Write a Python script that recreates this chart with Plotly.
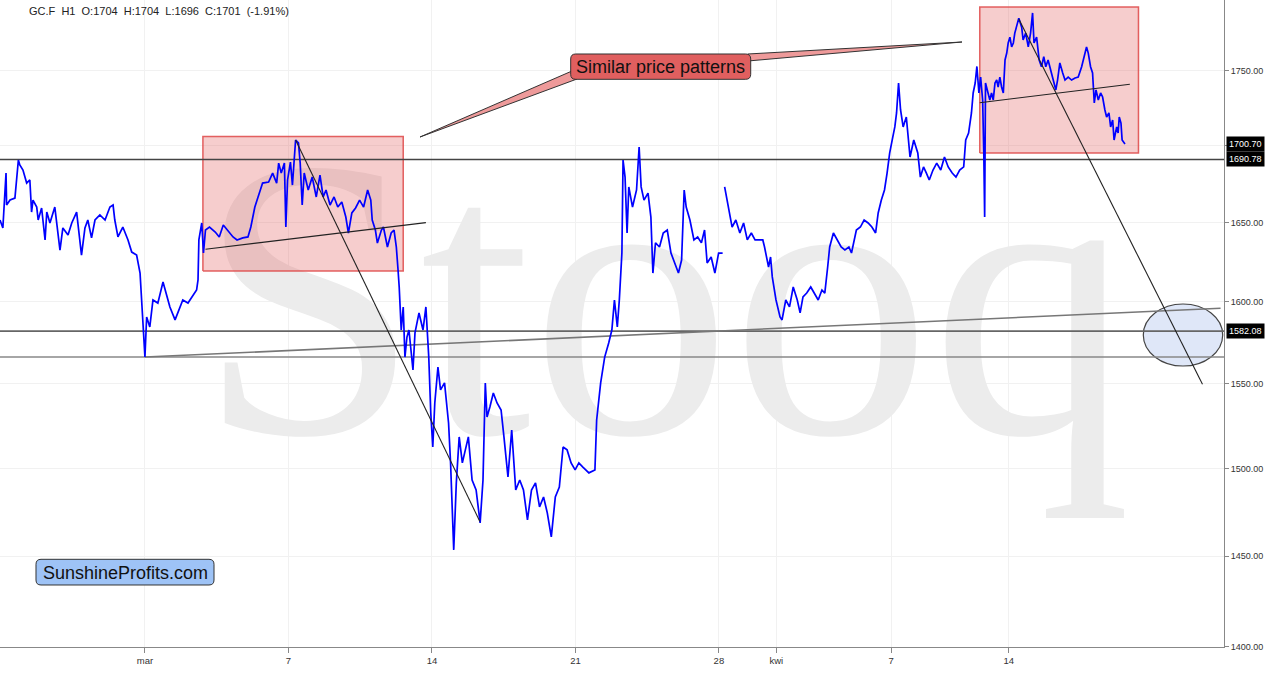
import math
import plotly.graph_objects as go

# ---------------- data ----------------
# t = trading days after 2 Mar 2020 (weekends removed), price = GC.F hourly close
t = [-5.05, -4.95, -4.84, -4.82, -4.70, -4.53, -4.41, -4.36, -4.25, -4.12, -4.01, -3.95, -3.90, -3.77,
     -3.72, -3.60, -3.48, -3.42, -3.31, -3.14, -2.96, -2.86, -2.68, -2.55, -2.38, -2.21, -2.09, -1.99,
     -1.86, -1.74, -1.57, -1.39, -1.22, -1.11, -1.05, -0.94, -0.77, -0.59, -0.46, -0.29, -0.17, -0.11,
     -0.06, 0.00, 0.06, 0.17, 0.28, 0.45, 0.63, 0.76, 0.87, 1.05, 1.15, 1.32, 1.50, 1.67, 1.80, 1.85,
     1.88, 1.98,
     2.04, 2.11, 2.25, 2.45, 2.59, 2.73, 2.87, 3.07, 3.21, 3.41, 3.59, 3.69, 3.83, 3.97, 4.10, 4.31,
     4.45, 4.59, 4.66, 4.75, 4.86, 4.91, 4.97, 5.07, 5.14, 5.25, 5.35, 5.41, 5.48, 5.55, 5.69, 5.83,
     5.97, 6.10, 6.21, 6.31, 6.45, 6.59, 6.72, 6.86, 7.00, 7.09, 7.21, 7.34, 7.48, 7.62, 7.76, 7.87,
     7.92, 8.03, 8.10, 8.24, 8.31, 8.45, 8.58, 8.68, 8.76, 8.82, 8.86, 8.93, 9.00, 9.06,
     9.13, 9.20, 9.27, 9.34, 9.41, 9.55, 9.69, 9.79, 9.89, 9.96, 10.03, 10.10, 10.21, 10.30, 10.44,
     10.58, 10.65, 10.76, 10.85, 10.95, 11.06, 11.17, 11.27, 11.40, 11.54, 11.68, 11.78, 11.86, 11.92,
     12.02, 12.14, 12.27, 12.41, 12.51, 12.65, 12.78, 12.92, 13.06, 13.19, 13.33, 13.47, 13.61, 13.75,
     13.89, 14.02, 14.16, 14.30, 14.44, 14.57, 14.71, 14.85, 14.99, 15.12, 15.26, 15.47, 15.68, 15.74,
     15.88, 16.02, 16.16, 16.27, 16.36,
     16.46, 16.53, 16.57, 16.62, 16.66, 16.73, 16.80, 16.86, 16.99, 17.13, 17.22, 17.29, 17.39, 17.53,
     17.63, 17.70, 17.79, 17.93, 18.06, 18.20, 18.33, 18.46, 18.59, 18.70, 18.79, 18.86, 18.99, 19.13,
     19.26, 19.39, 19.50, 19.59, 19.73, 19.86, 19.99, 20.13, 20.16,
     20.20, 20.33, 20.46, 20.59, 20.73, 20.86, 20.99, 21.13, 21.26, 21.39, 21.53, 21.59, 21.73, 21.80,
     21.86, 21.99, 22.13, 22.20, 22.33, 22.46, 22.59, 22.73, 22.83, 22.93, 23.06, 23.20, 23.33, 23.46,
     23.59, 23.69, 23.79, 23.86, 23.99, 24.13, 24.26, 24.39, 24.53, 24.62, 24.73, 24.79, 24.93, 25.06,
     25.20, 25.33, 25.46, 25.55, 25.66, 25.77, 25.86, 25.95, 26.06, 26.13, 26.19, 26.26, 26.33, 26.42,
     26.53, 26.60, 26.66, 26.79, 26.93, 27.02, 27.13, 27.23, 27.33, 27.46, 27.59, 27.73, 27.86, 27.99,
     28.13, 28.26, 28.39, 28.53, 28.60, 28.70, 28.80, 28.86, 28.93, 28.99, 29.06, 29.12, 29.19, 29.23,
     29.26, 29.29,
     29.38, 29.44, 29.50, 29.56, 29.62, 29.68, 29.73, 29.79, 29.85, 29.91, 29.97, 30.03, 30.08, 30.14,
     30.20, 30.26, 30.31, 30.37, 30.45, 30.55, 30.60, 30.69, 30.78, 30.86, 30.93, 30.98, 31.07, 31.16,
     31.24, 31.32, 31.39, 31.47, 31.56, 31.65, 31.74, 31.80, 31.88, 31.98, 32.06, 32.17, 32.29, 32.41,
     32.52, 32.64, 32.72, 32.81, 32.87, 32.95, 33.02, 33.08, 33.14, 33.22, 33.30, 33.37, 33.45, 33.51,
     33.59, 33.65, 33.72, 33.77, 33.86, 33.91, 33.95, 34.01, 34.05, 34.11, 34.15]

price = [1651.6, 1646.5, 1681.9, 1661.2, 1664.4, 1665.7, 1690.4, 1687.2, 1683.9, 1675.4, 1677.4, 1656.7,
         1664.4, 1659.9, 1651.6, 1659.3, 1638.9, 1656.7, 1649.7, 1659.9, 1632.5, 1646.5, 1642.0, 1649.7,
         1656.7, 1629.3, 1646.5, 1651.6, 1640.2, 1651.6, 1654.8, 1651.6, 1659.9, 1661.2, 1651.6, 1640.8,
         1647.1, 1638.9, 1631.2, 1629.3, 1618.0, 1596.9, 1584.6, 1566.2, 1590.7, 1584.6, 1601.2, 1599.3,
         1612.4, 1603.1, 1596.9, 1588.9, 1593.2, 1601.2, 1599.3, 1604.3, 1607.4, 1613.7, 1638.9, 1649.7,
         1630.6, 1645.2, 1647.1, 1643.9, 1640.8, 1648.4, 1645.2, 1640.8, 1638.9, 1640.2, 1640.8, 1647.1,
         1659.9, 1667.7, 1675.4, 1676.1, 1681.9, 1675.4, 1688.4, 1681.9, 1688.4, 1647.1, 1677.4, 1689.1,
         1674.1, 1703.6, 1701.6, 1688.4, 1661.2, 1681.9, 1670.9, 1679.3, 1666.4, 1680.6, 1666.4, 1670.9,
         1661.2, 1666.4, 1659.9, 1663.1, 1653.5, 1643.3, 1656.1, 1659.3, 1664.4, 1659.9, 1670.9, 1664.4,
         1651.6, 1645.2, 1636.9, 1645.2, 1647.1, 1634.4, 1643.3, 1645.2, 1634.4, 1619.9, 1609.3, 1582.7,
         1596.9, 1566.2,
         1578.4, 1582.7, 1572.3, 1558.4, 1580.9, 1593.2, 1582.7, 1596.9, 1566.2, 1532.6, 1512.6, 1538.6,
         1560.2, 1546.4, 1550.6, 1526.7, 1503.3, 1453.5, 1491.7, 1518.5, 1503.3, 1510.9, 1518.5, 1493.4,
         1487.6, 1468.8, 1493.4, 1550.6, 1530.3, 1536.2, 1544.6, 1538.6, 1534.4, 1518.5, 1495.1, 1522.6,
         1487.6, 1493.4, 1487.6, 1470.5, 1487.6, 1491.7, 1477.9, 1483.6, 1474.5, 1460.8, 1483.6, 1489.3,
         1512.6, 1510.9, 1503.3, 1499.2, 1503.3, 1500.9, 1497.5, 1499.2, 1528.5, 1550.6, 1566.2, 1574.8,
         1582.7, 1601.2,
         1584.6, 1601.2, 1618.0, 1630.6, 1690.4, 1679.3, 1643.3, 1672.9, 1659.9, 1670.9, 1699.0, 1672.9,
         1664.4, 1668.9, 1653.5, 1618.0, 1637.0, 1634.4, 1643.3, 1645.2, 1630.6, 1624.3, 1618.0, 1626.2,
         1670.9, 1659.9, 1651.6, 1638.9, 1640.8, 1637.0, 1645.2, 1624.3, 1628.1, 1618.0, 1630.6, 1630.6,
         None,
         1672.9, 1659.9, 1647.1, 1651.6, 1643.3, 1649.7, 1638.9, 1643.3, 1638.9, 1638.9, 1638.9, 1634.4,
         1621.8, 1628.1, 1615.6, 1601.2, 1590.7, 1588.9, 1601.2, 1596.9, 1609.3, 1601.2, 1593.2, 1603.1,
         1605.5, 1609.3, 1605.5, 1601.2, 1607.4, 1605.5, 1621.8, 1634.4, 1643.3, 1638.9, 1634.4, 1632.5,
         1634.4, 1630.6, 1638.9, 1645.2, 1647.1, 1651.6, 1649.7, 1647.1, 1643.3, 1656.1, 1664.4, 1670.9,
         1681.9, 1695.0, 1705.6, 1712.2, 1721.5, 1741.6, 1723.5, 1712.2, 1718.8, 1703.6, 1692.4, 1703.6,
         1695.0, 1679.3, 1685.9, 1681.9, 1677.4, 1683.9, 1688.4, 1683.9, 1692.4, 1685.9, 1681.9, 1679.3,
         1683.9, 1685.9, 1703.6, 1708.2, 1721.5, 1734.9, 1741.6, 1752.8, 1734.9, 1745.6, 1730.2, 1695.0,
         1653.5, 1741.6,
         1734.9, 1730.2, 1734.9, 1730.2, 1741.6, 1743.6, 1738.9, 1745.6, 1738.9, 1734.9, 1757.2, 1761.9,
         1768.8, 1772.8, 1766.1, 1768.8, 1775.6, 1779.7, 1785.9, 1779.7, 1770.9, 1775.6, 1766.1, 1775.6,
         1789.5, 1768.8, 1772.8, 1757.2, 1752.6, 1759.4, 1752.6, 1757.2, 1750.4, 1745.6, 1736.9, 1743.6,
         1755.2, 1748.4, 1743.6, 1745.6, 1743.6, 1745.0, 1745.6, 1752.6, 1759.4, 1766.1, 1761.9, 1752.6,
         1748.4, 1728.2, 1736.9, 1730.2, 1734.9, 1732.2, 1723.5, 1718.8, 1721.5, 1712.2, 1716.8, 1703.6,
         1712.2, 1708.2, 1718.8, 1714.8, 1703.6, 1701.6, 1701.0]

# x-axis ticks (trading-day offsets) and labels
tick_t = [0, 5, 10, 15, 20, 22, 26, 30.1]
tick_text = ["mar", "7", "14", "21", "28", "kwi", "7", "14"]

# y-axis ticks
price_ticks = [1400, 1450, 1500, 1550, 1600, 1650, 1700, 1750]

# horizontal support / resistance levels
level_top = 1690.78
level_mid = 1582.08
level_low = 1566.2
price_tags = [1700.70, 1690.78, 1582.08]

# analyst trendlines: (t0, p0, t1, p1)
trend_down_1 = (5.25, 1703.6, 11.67, 1469.6)
neck_1 = (2.11, 1633.0, 9.79, 1649.9)
rising_support = (0.0, 1566.2, 37.48, 1596.1)
trend_down_2 = (30.45, 1785.3, 36.85, 1549.8)
neck_2 = (29.09, 1728.3, 34.32, 1740.8)

# highlighted pattern boxes: (t0, t1, p_low, p_high)
box_1 = (2.02, 9.0, 1619.3, 1705.9)
box_2 = (29.09, 34.62, 1695.0, 1793.7)

X_RANGE = [-5.05, 37.6]
P_RANGE = [1399.84, 1798.5]

# ---------------- figure ----------------
W, H = 1280, 677
ML, MR, MT, MB = 0, 56, 0, 30
PW, PH = W - ML - MR, H - MT - MB


def px(x):
    return x / PW


def py(y):
    return 1 - y / PH


fig = go.Figure()

# watermark (drawn first, beneath everything)
fig.add_trace(go.Scatter(
    x=[18.1], y=[1580.9], mode="text", text=["Stooq"],
    textposition="middle center",
    textfont=dict(family="Liberation Serif", size=400, color="#ececec"),
    hoverinfo="skip", showlegend=False, cliponaxis=True))

# pattern boxes
for b in (box_1, box_2):
    t0, t1, p0, p1 = b
    fig.add_trace(go.Scatter(
        x=[t0, t1, t1, t0, t0], y=[p0, p0, p1, p1, p0], mode="lines",
        fill="toself", fillcolor="rgba(225,90,90,0.30)",
        line=dict(color="rgba(222,70,70,0.85)", width=1.5),
        hoverinfo="skip", showlegend=False))

# horizontal levels
for lvl, col, w in ((level_top, "#444444", 1.4), (level_mid, "#666666", 1.8), (level_low, "#888888", 1.4)):
    fig.add_trace(go.Scatter(x=X_RANGE, y=[lvl, lvl], mode="lines",
                             line=dict(color=col, width=w), hoverinfo="skip", showlegend=False))

# rising support line
fig.add_trace(go.Scatter(x=[rising_support[0], rising_support[2]], y=[rising_support[1], rising_support[3]],
                         mode="lines", line=dict(color="#777777", width=1.6),
                         hoverinfo="skip", showlegend=False))

# price
fig.add_trace(go.Scatter(x=t, y=price, mode="lines", line=dict(color="#0000ff", width=1.7),
                         connectgaps=False, showlegend=False, name="GC.F"))

# other trendlines on top
for ln in (trend_down_1, neck_1, trend_down_2, neck_2):
    fig.add_trace(go.Scatter(x=[ln[0], ln[2]], y=[ln[1], ln[3]], mode="lines",
                             line=dict(color="#222222", width=1.1),
                             hoverinfo="skip", showlegend=False))


def rounded_rect(x0, y0, x1, y1, r):
    # pixel box -> paper path with rounded corners
    pts = [
        ("M", x0 + r, y0), ("L", x1 - r, y0), ("Q", x1, y0, x1, y0 + r),
        ("L", x1, y1 - r), ("Q", x1, y1, x1 - r, y1), ("L", x0 + r, y1),
        ("Q", x0, y1, x0, y1 - r), ("L", x0, y0 + r), ("Q", x0, y0, x0 + r, y0)]
    s = ""
    for p in pts:
        if p[0] == "Q":
            s += f"Q{px(p[1]):.5f},{py(p[2]):.5f} {px(p[3]):.5f},{py(p[4]):.5f} "
        else:
            s += f"{p[0]}{px(p[1]):.5f},{py(p[2]):.5f} "
    return s + "Z"


def tri(pts):
    s = "M" + " L".join(f"{px(a):.5f},{py(b):.5f}" for a, b in pts)
    return s + " Z"


shapes = []
# target ellipse
shapes.append(dict(type="circle", xref="paper", yref="paper",
                   x0=px(1143.3), x1=px(1222.7), y0=py(366), y1=py(304),
                   fillcolor="#dfe7f8", line=dict(color="#444444", width=1.2), layer="below"))
# callout tails
shapes.append(dict(type="path", xref="paper", yref="paper",
                   path=tri([(572, 71), (420, 137), (577, 79)]),
                   fillcolor="#ee9a9a", line=dict(color="#333333", width=1)))
shapes.append(dict(type="path", xref="paper", yref="paper",
                   path=tri([(748, 54), (962, 42), (748, 61)]),
                   fillcolor="#ee9a9a", line=dict(color="#333333", width=1)))
# label boxes
shapes.append(dict(type="path", xref="paper", yref="paper",
                   path=rounded_rect(570.7, 54, 750.7, 79.3, 5),
                   fillcolor="#e05f5f", line=dict(color="#333333", width=1)))
shapes.append(dict(type="path", xref="paper", yref="paper",
                   path=rounded_rect(36, 559.3, 214, 585, 5),
                   fillcolor="#9ec3f6", line=dict(color="#333333", width=1)))

annotations = [
    dict(text="GC.F\u00a0\u00a0H1\u00a0\u00a0O:1704\u00a0\u00a0H:1704\u00a0\u00a0L:1696\u00a0\u00a0C:1701\u00a0\u00a0(-1.91%)",
         xref="paper", yref="paper", x=px(27), y=py(11), xanchor="left", yanchor="middle",
         showarrow=False, font=dict(family="Liberation Sans", size=11, color="#222222")),
    dict(text="Similar price patterns", xref="paper", yref="paper", x=px(660.7), y=py(67),
         xanchor="center", yanchor="middle", showarrow=False,
         font=dict(family="Liberation Sans", size=18, color="#111111")),
    dict(text="SunshineProfits.com", xref="paper", yref="paper", x=px(125), y=py(572.5),
         xanchor="center", yanchor="middle", showarrow=False,
         font=dict(family="Liberation Sans", size=18, color="#111111")),
]
for tag in price_tags:
    annotations.append(dict(text=f"{tag:.2f}", xref="paper", yref="y", x=1, y=math.log10(tag),
                            xanchor="left", yanchor="middle", xshift=2, showarrow=False,
                            bgcolor="#000000", borderpad=2,
                            font=dict(family="Liberation Sans", size=9, color="#ffffff")))

fig.update_layout(
    width=W, height=H,
    margin=dict(l=ML, r=MR, t=MT, b=MB, pad=0),
    paper_bgcolor="#ffffff", plot_bgcolor="#ffffff",
    showlegend=False,
    shapes=shapes, annotations=annotations,
    xaxis=dict(range=X_RANGE, tickmode="array", tickvals=tick_t, ticktext=tick_text,
               showgrid=True, gridcolor="#f1f1f1", gridwidth=1, zeroline=False,
               showline=True, linecolor="#888888", linewidth=1,
               ticks="outside", ticklen=5, tickcolor="#888888",
               tickfont=dict(family="Liberation Sans", size=9.5, color="#333333")),
    yaxis=dict(type="log", range=[math.log10(P_RANGE[0]), math.log10(P_RANGE[1])], side="right",
               tickmode="array", tickvals=price_ticks, ticktext=[f"{v:.2f}" for v in price_ticks],
               showgrid=True, gridcolor="#f1f1f1", gridwidth=1, zeroline=False,
               showline=True, linecolor="#888888", linewidth=1,
               ticks="outside", ticklen=4, tickcolor="#888888",
               tickfont=dict(family="Liberation Sans", size=9, color="#333333")),
)

fig.write_html(
    "out.html",
    config={"displayModeBar": False},
    post_script="document.body.style.margin='0';document.body.style.padding='0';"
                "document.body.style.overflow='hidden';",
)
